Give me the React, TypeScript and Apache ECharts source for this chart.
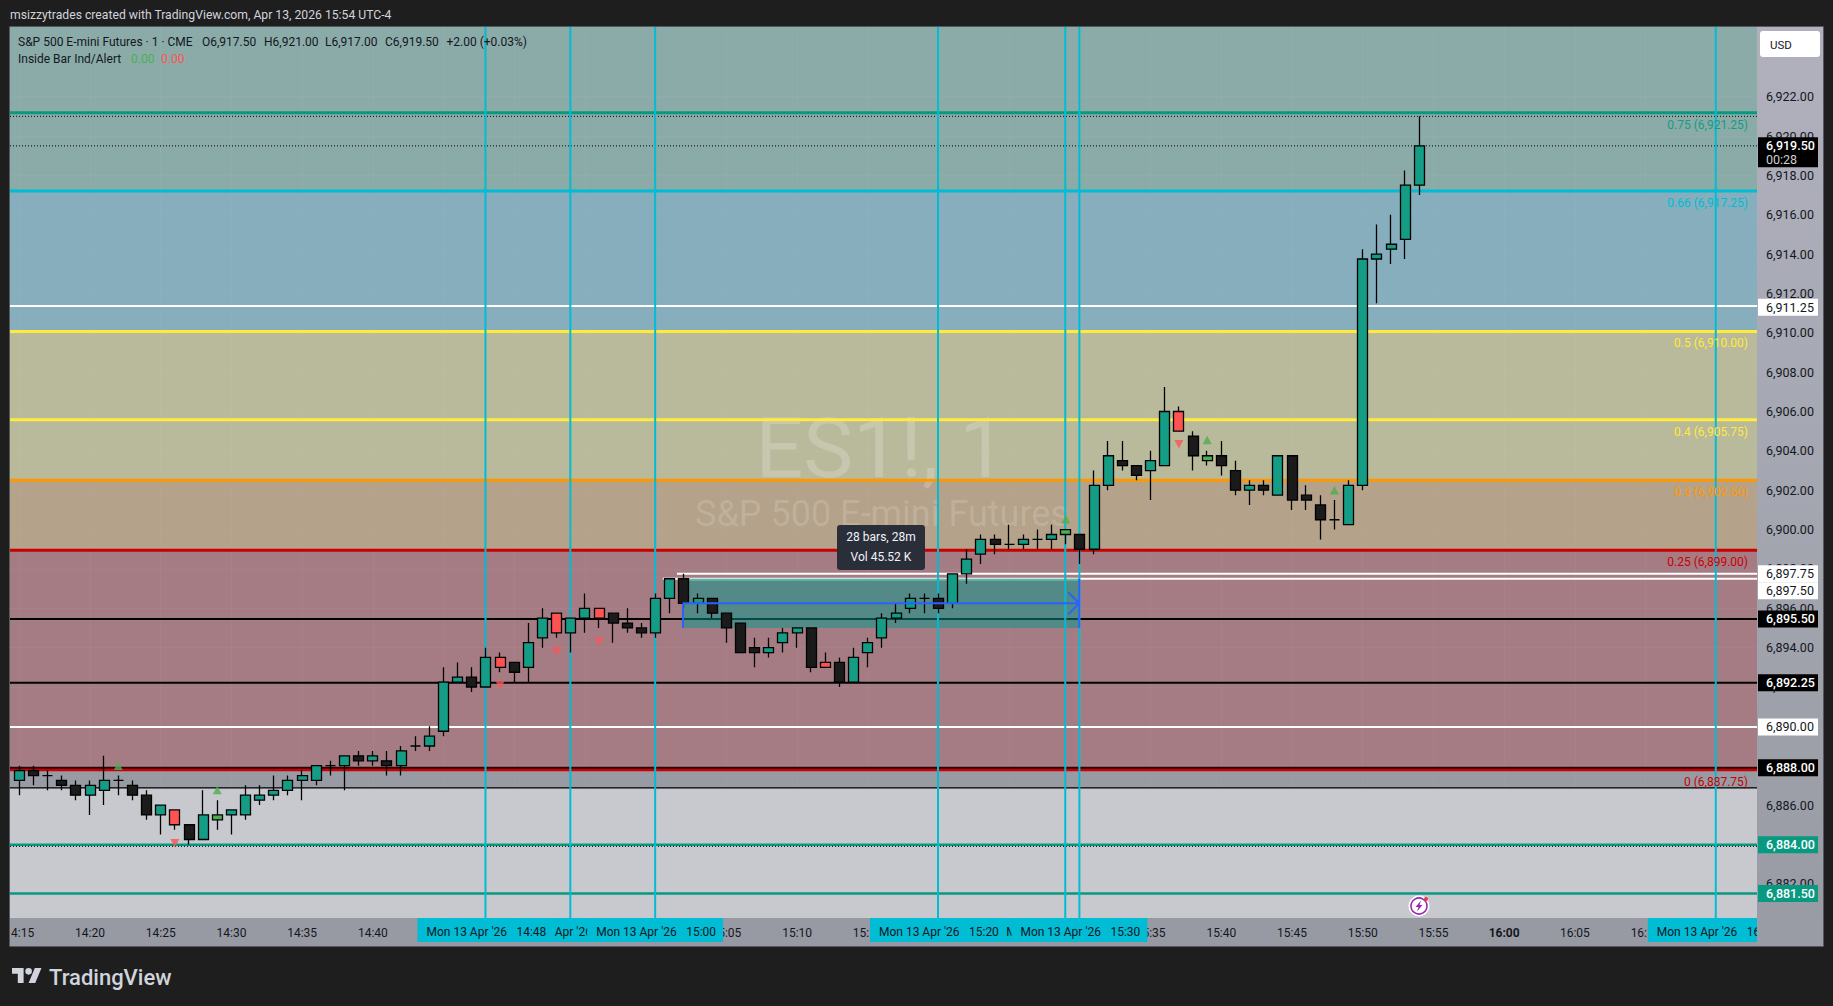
import React, { useEffect, useRef } from "react";
import * as echarts from "echarts";

// ---- data (minute bars, index 0 = 14:15) ----
const opens = [6887.25,6887.75,6887.5,6887.25,6887,6886.5,6886.75,6887.25,6887,6886.5,6885.5,6885.75,6885,6884.25,6885.25,6885.5,6885.5,6886.25,6886.5,6886.75,6887.25,6887.25,6888,6888,6888.5,6888.25,6888.25,6888,6889,6889,6889.75,6892.25,6892.5,6892,6893.5,6893.25,6893,6894.5,6895.75,6894.75,6895.5,6896,6895.75,6895.25,6895,6894.75,6896.5,6897.5,6896.25,6896.5,6895.75,6895.25,6894,6893.75,6894.25,6894.75,6895,6893,6893.25,6892.25,6893.75,6894.5,6895.5,6896,6896.5,6896.5,6896.25,6897.75,6898.75,6899.5,6899.25,6899.25,6899.5,6899.5,6899.75,6899.75,6899,6902.25,6903.5,6903.25,6903,6903.25,6906,6904.75,6903.5,6903.75,6903,6902,6902.25,6901.75,6903.75,6901.75,6901.25,6900.5,6900.25,6902.25,6913.75,6914.25,6914.75,6917.5];
const closes = [6887.75,6887.5,6887.5,6887,6886.5,6887,6887.25,6887.25,6886.5,6885.5,6886,6885,6884.25,6885.5,6885.5,6885.75,6886.5,6886.5,6886.75,6887.25,6887.5,6888,6888,6888.5,6888.25,6888.5,6888,6888.75,6889,6889.5,6892.25,6892.5,6892,6893.5,6893,6892.75,6894.25,6895.5,6894.75,6895.5,6896,6895.5,6895.25,6895,6894.75,6896.5,6897.5,6896.25,6896.5,6895.75,6895,6893.75,6893.75,6894,6894.75,6895,6893,6893.25,6892.25,6893.5,6894.25,6895.5,6895.75,6896.5,6896.5,6896,6897.75,6898.5,6899.5,6899.25,6899.25,6899.5,6899.5,6899.75,6900,6899,6902.25,6903.75,6903.25,6902.75,6903.5,6906,6905,6903.75,6903.75,6903.25,6902,6902.25,6902,6903.75,6901.5,6901.5,6900.5,6900.5,6902.25,6913.75,6914,6914.5,6917.5,6919.5];
const lows = [6886.5,6887,6886.75,6886.75,6886.25,6885.5,6886,6886.5,6886.25,6885.25,6884.5,6884.75,6884,6884.25,6884.75,6884.5,6885.25,6886,6886.25,6886.5,6886.25,6887,6887.5,6886.75,6888,6888,6887.5,6887.5,6888.75,6888.75,6889.5,6892.25,6891.75,6892,6892.75,6892.25,6892.25,6894,6894.5,6893.75,6894.75,6895,6894.25,6894.75,6894.5,6894.5,6895.75,6896,6895.75,6895.5,6894.25,6893.75,6893,6893.5,6893.75,6894,6892.75,6893,6892,6892.25,6893,6894,6895.25,6895.75,6895.75,6895.75,6896,6897.25,6898.25,6898.75,6899,6899,6899,6899,6899.25,6898.25,6898.75,6902,6903,6902.5,6901.5,6903.25,6905,6903,6903.25,6902.75,6901.75,6901.25,6901.75,6901.75,6901,6901,6899.5,6900,6900.25,6902,6911.5,6913.5,6913.75,6917];
const highs = [6888,6888,6887.75,6887.5,6887.25,6887.25,6888.5,6887.5,6887.25,6886.75,6886,6885.75,6885,6886.75,6886.25,6885.75,6887,6887,6887.5,6887.5,6887.75,6888,6888.25,6888.5,6888.75,6888.75,6888.75,6889,6889.5,6890,6893,6893.25,6893,6894,6893.75,6893.25,6895.25,6896,6895.75,6895.5,6896.75,6896,6895.75,6896,6895.25,6896.75,6897.5,6897.75,6896.75,6896.5,6895.75,6895.25,6894.5,6894.5,6895,6895,6895,6893.75,6893.5,6894,6894.5,6895.75,6896.25,6896.75,6896.75,6896.75,6897.75,6899,6899.75,6899.75,6900.25,6899.75,6900,6900.25,6900,6899.75,6903,6904.5,6904.5,6903.25,6904,6907.25,6906.25,6905,6904,6904.5,6903.5,6902.5,6902.5,6903.75,6903.75,6902.25,6901.75,6901.5,6902.5,6914.25,6915.5,6916,6918.25,6921];
// t = teal, b = black, r = red inside bar, g = green inside bar; ten bars per group
const kinds = ["tbbbbttbbb","trbtgttttt","ttbtbtbtbt","ttbtrbttrt","trbbbttbtb","bbbtttbrbt","ttttbbtttb","btbtgbttbb","ttrbgbbtbt","bbbbtttttt"].join("");

const timeTicks = [0,5,10,15,20,25,30,35,40,45,50,55,60,65,70,75,80,85,90,95,100,105,110,115,120];
const timeTickLabels = ["14:15","14:20","14:25","14:30","14:35","14:40","14:45","14:50","14:55","15:00","15:05","15:10","15:15","15:20","15:25","15:30","15:35","15:40","15:45","15:50","15:55","16:00","16:05","16:10","16:15"];
const priceTicks = [6882,6884,6886,6888,6890,6892,6894,6896,6898,6900,6902,6904,6906,6908,6910,6912,6914,6916,6918,6920,6922];

const zoneTops = [6925.54,6917.2,6910.07,6902.5,6899,6887.79,6886.875];
const zoneBottoms = [6917.2,6910.07,6902.5,6899,6887.79,6886.875,6880.26];
const zoneColors = ["#8baba9","#86aebd","#b9b99b","#b4a28a","#a67c84","#989ba3","#c8c9ce"];

const fibPrices = [6921.18,6917.2,6910.07,6905.58,6902.5,6898.95,6887.79];
const fibLabels = ["0.75 (6,921.25)","0.66 (6,917.25)","0.5 (6,910.00)","0.4 (6,905.75)","0.3 (6,902.50)","0.25 (6,899.00)","0 (6,887.75)"];
const fibColors = ["#089981","#00bcd4","#ffeb3b","#ffeb3b","#ff9800","#c90000","#c90000"];

const linePrices = [6911.36,6889.97,6895.46,6892.22,6887.89,6886.875,6883.98,6881.5,6921,6919.5,6883.9,6897.5,6897.75];
const lineColors = ["#ffffff","#ffffff","#000000","#000000","#2a0505","#000000","#089981","#089981","#000000","#000000","#000000","#ffffff","#ffffff"];
const lineWidths = [2,2,2,2,2,1.3,2.5,2.5,1,1,1,2,2];
const lineDashed = [0,0,0,0,0,0,0,0,1,1,1,0,0];
const lineStarts = [-1,-1,-1,-1,-1,-1,-1,-1,-1,-1,-1,46,47];

const vlineBars = [33,39,45,65,74,75,120];
const bandBars = [39,33,45,74,65,75,120];
const bandTimes = ["14:54","14:48","15:00","15:29","15:20","15:30","16:15"];
const bandDate = "Mon 13 Apr '26";

const upMarkBars = [7,14,74,84,93];
const upMarkPrices = [6888,6886.77,6900.52,6904.55,6902];
const downMarkBars = [11,34,38,41,82];
const downMarkPrices = [6884.06,6892.07,6893.8,6894.3,6904.33];

const tagPrices = [6911.3,6897.75,6897.5,6895.46,6892.22,6889.97,6887.89,6883.98,6881.5];
const tagLabels = ["6,911.25","6,897.75","6,897.50","6,895.50","6,892.25","6,890.00","6,888.00","6,884.00","6,881.50"];
const tagFills = ["#ffffff","#ffffff","#ffffff","#000000","#000000","#ffffff","#000000","#089981","#089981"];
const tagShift = [0,0,12,0,0,0,0,0,0];
const lastPrice = 6919.5;

const positionStart = 47;
const positionEnd = 75;
const positionTop = 6897.5;
const positionBottom = 6895;
const positionEntry = 6896.25;

// ---- page layout ----
const W = 1833, H = 1006;
const PL = 10, PR = 1757, PT = 27, PB = 918;
const AXR = 1823, AXB = 946;
const Y_MIN = 6880.26, Y_MAX = 6925.54;
const X_MIN = -0.658, X_MAX = 122.88;
const FONT = "Roboto, sans-serif";
const DARK = "#1e1e1e";

const fmtPrice = (v: number) => v.toLocaleString("en-US", { minimumFractionDigits: 2, maximumFractionDigits: 2 });
const kindColor: Record<string, string> = { t: "#149c85", b: "#1b1b1b", r: "#ff5252", g: "#4caf50" };

echarts.graphic.registerShape("tvlogo", echarts.graphic.extendPath(
  "M14 22H7V11H0V4h14v18zM28 22h-8l7.5-18h8L28 22zM24 8a4 4 0 1 1-8 0a4 4 0 1 1 8 0z", {}) as any);

const txt = (text: string, x: number, y: number, fill: string, size = 12.5, extra: any = {}) => ({
  type: "text", z: 20, silent: true,
  style: {
    text, x, y, fill, font: `${extra.weight || "normal"} ${size}px ${FONT}`,
    textAlign: extra.align || "left", align: extra.align || "left",
    textVerticalAlign: "middle", verticalAlign: "middle",
  },
  ...(extra.z !== undefined ? { z: extra.z } : {}),
});
const box = (x: number, y: number, w: number, h: number, fill: any, z: number, r = 0) => ({
  type: "rect", z, silent: true, shape: { x, y, width: w, height: h, r }, style: { fill },
});

function buildOption() {
  const indexData = (a: any[]) => a.map((_, i) => [i, 0]);
  const customBase = { type: "custom", coordinateSystem: "cartesian2d", clip: false, silent: true, animation: false, encode: { x: 0, y: 1 } };
  const Xf = (api: any) => (i: number) => api.coord([i, Y_MIN])[0];
  const Yf = (api: any) => (p: number) => api.coord([0, p])[1];

  const candleData = opens.map((o, i) => {
    const c = kindColor[kinds[i]];
    return {
      value: [i, o, closes[i], lows[i], highs[i]],
      itemStyle: { color: c, color0: c, borderColor: "#000", borderColor0: "#000", borderColorDoji: "#000" },
    };
  });

  const series: any[] = [
    { ...customBase, name: "zones", z: -1, data: indexData(zoneColors),
      renderItem: (p: any, api: any) => {
        const Y = Yf(api); const y0 = Y(zoneTops[p.dataIndex]); const y1 = Y(zoneBottoms[p.dataIndex]);
        return { type: "rect", shape: { x: PL, y: y0, width: PR - PL, height: y1 - y0 }, style: { fill: zoneColors[p.dataIndex] } };
      } },
    { ...customBase, name: "fibLines", z: 1, data: indexData(fibPrices),
      renderItem: (p: any, api: any) => {
        const i = p.dataIndex; const y = Yf(api)(fibPrices[i]);
        return { type: "line", shape: { x1: PL, y1: y, x2: PR, y2: y }, style: { stroke: fibColors[i], lineWidth: 3 } };
      } },
    { ...customBase, name: "levels", z: 1.1, data: indexData(linePrices),
      renderItem: (p: any, api: any) => {
        const i = p.dataIndex; const y = Yf(api)(linePrices[i]);
        const x0 = lineStarts[i] < 0 ? PL : Xf(api)(lineStarts[i]) - 7;
        return { type: "line", shape: { x1: x0, y1: y, x2: PR, y2: y },
          style: { stroke: lineColors[i], lineWidth: lineWidths[i], lineDash: lineDashed[i] ? [1, 2] : null } };
      } },
    { ...customBase, name: "position", z: 1.2, data: [[0, 0]],
      renderItem: (_p: any, api: any) => {
        const X = Xf(api), Y = Yf(api);
        const x0 = X(positionStart) - 1, x1 = X(positionEnd) - 0.7, y0 = Y(positionTop), y1 = Y(positionBottom);
        return { type: "group", children: [
          { type: "rect", shape: { x: x0, y: y0, width: x1 - x0, height: y1 - y0 }, style: { fill: "rgba(0,150,136,0.5)" } },
          { type: "line", shape: { x1: x0, y1: y0 + 1, x2: x1, y2: y0 + 1 }, style: { stroke: "#66b7aa", lineWidth: 2 } },
        ] };
      } },
    { ...customBase, name: "vlines", z: 1.5, data: indexData(vlineBars),
      renderItem: (p: any, api: any) => {
        const x = Xf(api)(vlineBars[p.dataIndex]) - 0.5;
        return { type: "line", shape: { x1: x, y1: PT, x2: x, y2: PB }, style: { stroke: "#00bcd4", lineWidth: 2 } };
      } },
    { type: "candlestick", name: "ES1!", z: 2, data: candleData, encode: { x: 0, y: [1, 2, 3, 4] },
      barWidth: 10.5, clip: true, silent: true, animation: false,
      itemStyle: { borderWidth: 1.3, borderColor: "#000", borderColor0: "#000", borderColorDoji: "#000" } },
    { type: "scatter", name: "Inside up", z: 3, symbol: "triangle", symbolSize: [9, 8.5], silent: true, animation: false,
      itemStyle: { color: "#4caf50" }, data: upMarkBars.map((b, i) => [b, upMarkPrices[i]]) },
    { type: "scatter", name: "Inside down", z: 3, symbol: "triangle", symbolRotate: 180, symbolSize: [9, 8.5], silent: true, animation: false,
      itemStyle: { color: "#ff5252" }, data: downMarkBars.map((b, i) => [b, downMarkPrices[i]]) },
    { ...customBase, name: "arrow", z: 4, data: [[0, 0]],
      renderItem: (_p: any, api: any) => {
        const X = Xf(api), Y = Yf(api);
        const x0 = X(positionStart) - 1, x1 = X(positionEnd) - 0.7, y = Y(positionEntry), yt = Y(positionTop), yb = Y(positionBottom);
        const st = { stroke: "#2962ff", lineWidth: 2, fill: "none" };
        return { type: "group", children: [
          { type: "line", shape: { x1: x0, y1: y, x2: x1, y2: y }, style: st },
          { type: "line", shape: { x1: x0, y1: y, x2: x0, y2: yb }, style: st },
          { type: "line", shape: { x1: x1, y1: yt, x2: x1, y2: yb }, style: st },
          { type: "polyline", shape: { points: [[x1 - 11, y - 11], [x1, y], [x1 - 11, y + 11]] }, style: st },
        ] };
      } },
    { ...customBase, name: "fibLabels", z: 5, data: indexData(fibLabels),
      renderItem: (p: any, api: any) => {
        const i = p.dataIndex; const y = Yf(api)(fibPrices[i]);
        return { type: "text", style: { text: fibLabels[i], x: PR - 9, y: y + 12, fill: fibColors[i] === "#089981" ? "#149c85" : fibColors[i],
          font: `12px ${FONT}`, textAlign: "right", align: "right", textVerticalAlign: "middle", verticalAlign: "middle" } };
      } },
    { ...customBase, name: "timeBands", z: 6, data: indexData(bandBars),
      renderItem: (p: any, api: any) => {
        const i = p.dataIndex; const x = Xf(api)(bandBars[i]) - 0.5;
        const tx = (text: string, tX: number) => ({ type: "text", z2: i * 2 + 1,
          style: { text, x: tX, y: 932, fill: "#131722", font: `12px ${FONT}`, textAlign: "left", align: "left", textVerticalAlign: "middle", verticalAlign: "middle" } });
        return { type: "group", children: [
          { type: "rect", z2: i * 2, shape: { x: x - 68, y: PB, width: 136, height: 24 }, style: { fill: "#00bcd4" } },
          tx(bandDate, x - 59), tx(bandTimes[i], x + 31),
        ] };
      } },
    { ...customBase, name: "priceTags", z: 8, data: indexData(tagPrices),
      renderItem: (p: any, api: any) => {
        const i = p.dataIndex; const y = Yf(api)(tagPrices[i]) + tagShift[i];
        const dark = tagFills[i] !== "#ffffff";
        return { type: "group", children: [
          { type: "rect", shape: { x: PR + 1, y: y - 8.5, width: 60, height: 17 }, style: { fill: tagFills[i] } },
          { type: "text", style: { text: tagLabels[i], x: 1766, y: y, fill: dark ? "#ffffff" : "#131722",
            font: `${dark ? 500 : 400} 12.5px ${FONT}`, textAlign: "left", align: "left", textVerticalAlign: "middle", verticalAlign: "middle" } },
        ] };
      } },
    { ...customBase, name: "lastTag", z: 8, data: [[0, 0]],
      renderItem: (_p: any, api: any) => {
        const y = Yf(api)(lastPrice);
        const mk = (text: string, ty: number, fill: string, w: number) => ({ type: "text",
          style: { text, x: 1766, y: ty, fill, font: `${w} 12.5px ${FONT}`, textAlign: "left", align: "left", textVerticalAlign: "middle", verticalAlign: "middle" } });
        return { type: "group", children: [
          { type: "rect", shape: { x: PR + 1, y: y - 8.5, width: 60, height: 30 }, style: { fill: "#000000" } },
          mk(fmtPrice(lastPrice), y, "#ffffff", 500), mk("00:28", y + 14, "#cfcfcf", 400),
        ] };
      } },
  ];

  const graphic: any[] = [
    // axis strips, below the axis labels
    box(PR, PT, AXR - PR, AXB - PT, { type: "linear", x: 0, y: 0, x2: 0, y2: 1,
      colorStops: [{ offset: 0, color: "#b0b1bd" }, { offset: 1, color: "#989ba4" }] }, -2),
    box(PL, PB, PR - PL, AXB - PB, "#979aa3", -2),
    // watermark, above the zones and below the marks
    txt("ES1!, 1", 881, 448, "rgba(255,255,255,0.2)", 84, { align: "center", z: -0.5 }),
    txt("S&P 500 E-mini Futures", 882, 514, "rgba(255,255,255,0.16)", 36, { align: "center", z: -0.5 }),
    // covers that clip the axis overflows
    box(0, PB, PL - 1, AXB - PB + 2, DARK, 10),
    box(PR, PB, AXR - PR, AXB - PB, "#999ca5", 10),
    // frame
    { type: "polyline", z: 11, silent: true, shape: { points: [[9.5, PT - 0.5], [AXR + 0.5, PT - 0.5], [AXR + 0.5, AXB + 0.5], [9.5, AXB + 0.5], [9.5, PT - 0.5]] },
      style: { stroke: "#55585c", lineWidth: 1, fill: "none" } },
    // header
    txt("msizzytrades created with TradingView.com, Apr 13, 2026 15:54 UTC-4", 10, 15, "#d1d4dc", 12.2),
    txt("S&P 500 E-mini Futures · 1 · CME", 18, 41.5, "#131722", 12),
    txt("O6,917.50", 202, 41.5, "#131722", 12),
    txt("H6,921.00", 264, 41.5, "#131722", 12),
    txt("L6,917.00", 325, 41.5, "#131722", 12),
    txt("C6,919.50", 385, 41.5, "#131722", 12),
    txt("+2.00 (+0.03%)", 446.5, 41.5, "#131722", 12),
    txt("Inside Bar Ind/Alert", 18, 58.5, "#131722", 12),
    txt("0.00", 131, 58.5, "#4caf50", 12),
    txt("0.00", 161, 58.5, "#ff5252", 12),
    // USD button
    box(1760, 31, 60, 26, "#ffffff", 12, 3),
    txt("USD", 1770, 44.5, "#131722", 11.5),
    // measure tooltip
    box(837, 525, 88, 45, "#2a2e39", 20, 3),
    txt("28 bars, 28m", 881, 537, "#f0f3fa", 12, { align: "center", z: 21 }),
    txt("Vol 45.52 K", 881, 557, "#f0f3fa", 12, { align: "center", z: 21 }),
    // lightning badge
    { type: "circle", z: 12, silent: true, shape: { cx: 1419, cy: 906, r: 10.5 }, style: { fill: "#ffffff" } },
    { type: "circle", z: 12, silent: true, shape: { cx: 1419, cy: 906, r: 8 }, style: { fill: "#ffffff", stroke: "#9c27b0", lineWidth: 1.6 } },
    { type: "polygon", z: 13, silent: true, shape: { points: [[1421, 900.5], [1415.5, 907], [1418.5, 907], [1417, 911.5], [1422.5, 905], [1419.5, 905]] }, style: { fill: "#9c27b0" } },
    { type: "circle", z: 13, silent: true, shape: { cx: 1426, cy: 899, r: 2 }, style: { fill: "#f23645" } },
    // logo
    { type: "tvlogo", z: 12, silent: true, x: 12, y: 964.7, scaleX: 0.83, scaleY: 0.83, style: { fill: "#d1d4dc" } },
    txt("TradingView", 49, 977, "#d1d4dc", 22, { weight: 500 }),
  ];

  return {
    animation: false,
    backgroundColor: DARK,
    textStyle: { fontFamily: FONT },
    grid: { left: PL, top: PT, width: PR - PL, height: PB - PT, containLabel: false },
    xAxis: {
      type: "value", min: X_MIN, max: X_MAX, scale: true,
      axisLine: { show: false },
      axisTick: { show: false, customValues: timeTicks },
      splitLine: { show: true, lineStyle: { color: "rgba(255,255,255,0.035)", width: 1 } },
      axisLabel: {
        customValues: timeTicks, margin: 9, color: "#131722", fontSize: 12, fontFamily: FONT,
        showMinLabel: true, showMaxLabel: true, hideOverlap: false,
        formatter: (v: number) => {
          const s = timeTickLabels[timeTicks.indexOf(Math.round(v))] || "";
          return s === "16:00" ? `{b|${s}}` : s;
        },
        rich: { b: { fontWeight: 700, fontSize: 12, color: "#131722", fontFamily: FONT } },
      },
    },
    yAxis: {
      type: "value", position: "right", min: Y_MIN, max: Y_MAX, scale: true,
      axisLine: { show: false },
      axisTick: { show: false, customValues: priceTicks },
      splitLine: { show: true, lineStyle: { color: "rgba(255,255,255,0.03)", width: 1 } },
      axisLabel: {
        customValues: priceTicks, margin: 9, color: "#131722", fontSize: 12.5, fontFamily: FONT,
        hideOverlap: false, formatter: (v: number) => fmtPrice(v),
      },
    },
    graphic: { elements: graphic },
    series,
  };
}

export default function App() {
  const ref = useRef<HTMLDivElement>(null);
  useEffect(() => {
    document.body.style.margin = "0";
    document.body.style.background = DARK;
    const chart = echarts.init(ref.current as HTMLDivElement, undefined, { renderer: "svg", width: W, height: H });
    chart.setOption(buildOption() as any);
    return () => chart.dispose();
  }, []);
  return <div ref={ref} style={{ position: "fixed", left: 0, top: 0, width: W, height: H }} />;
}
